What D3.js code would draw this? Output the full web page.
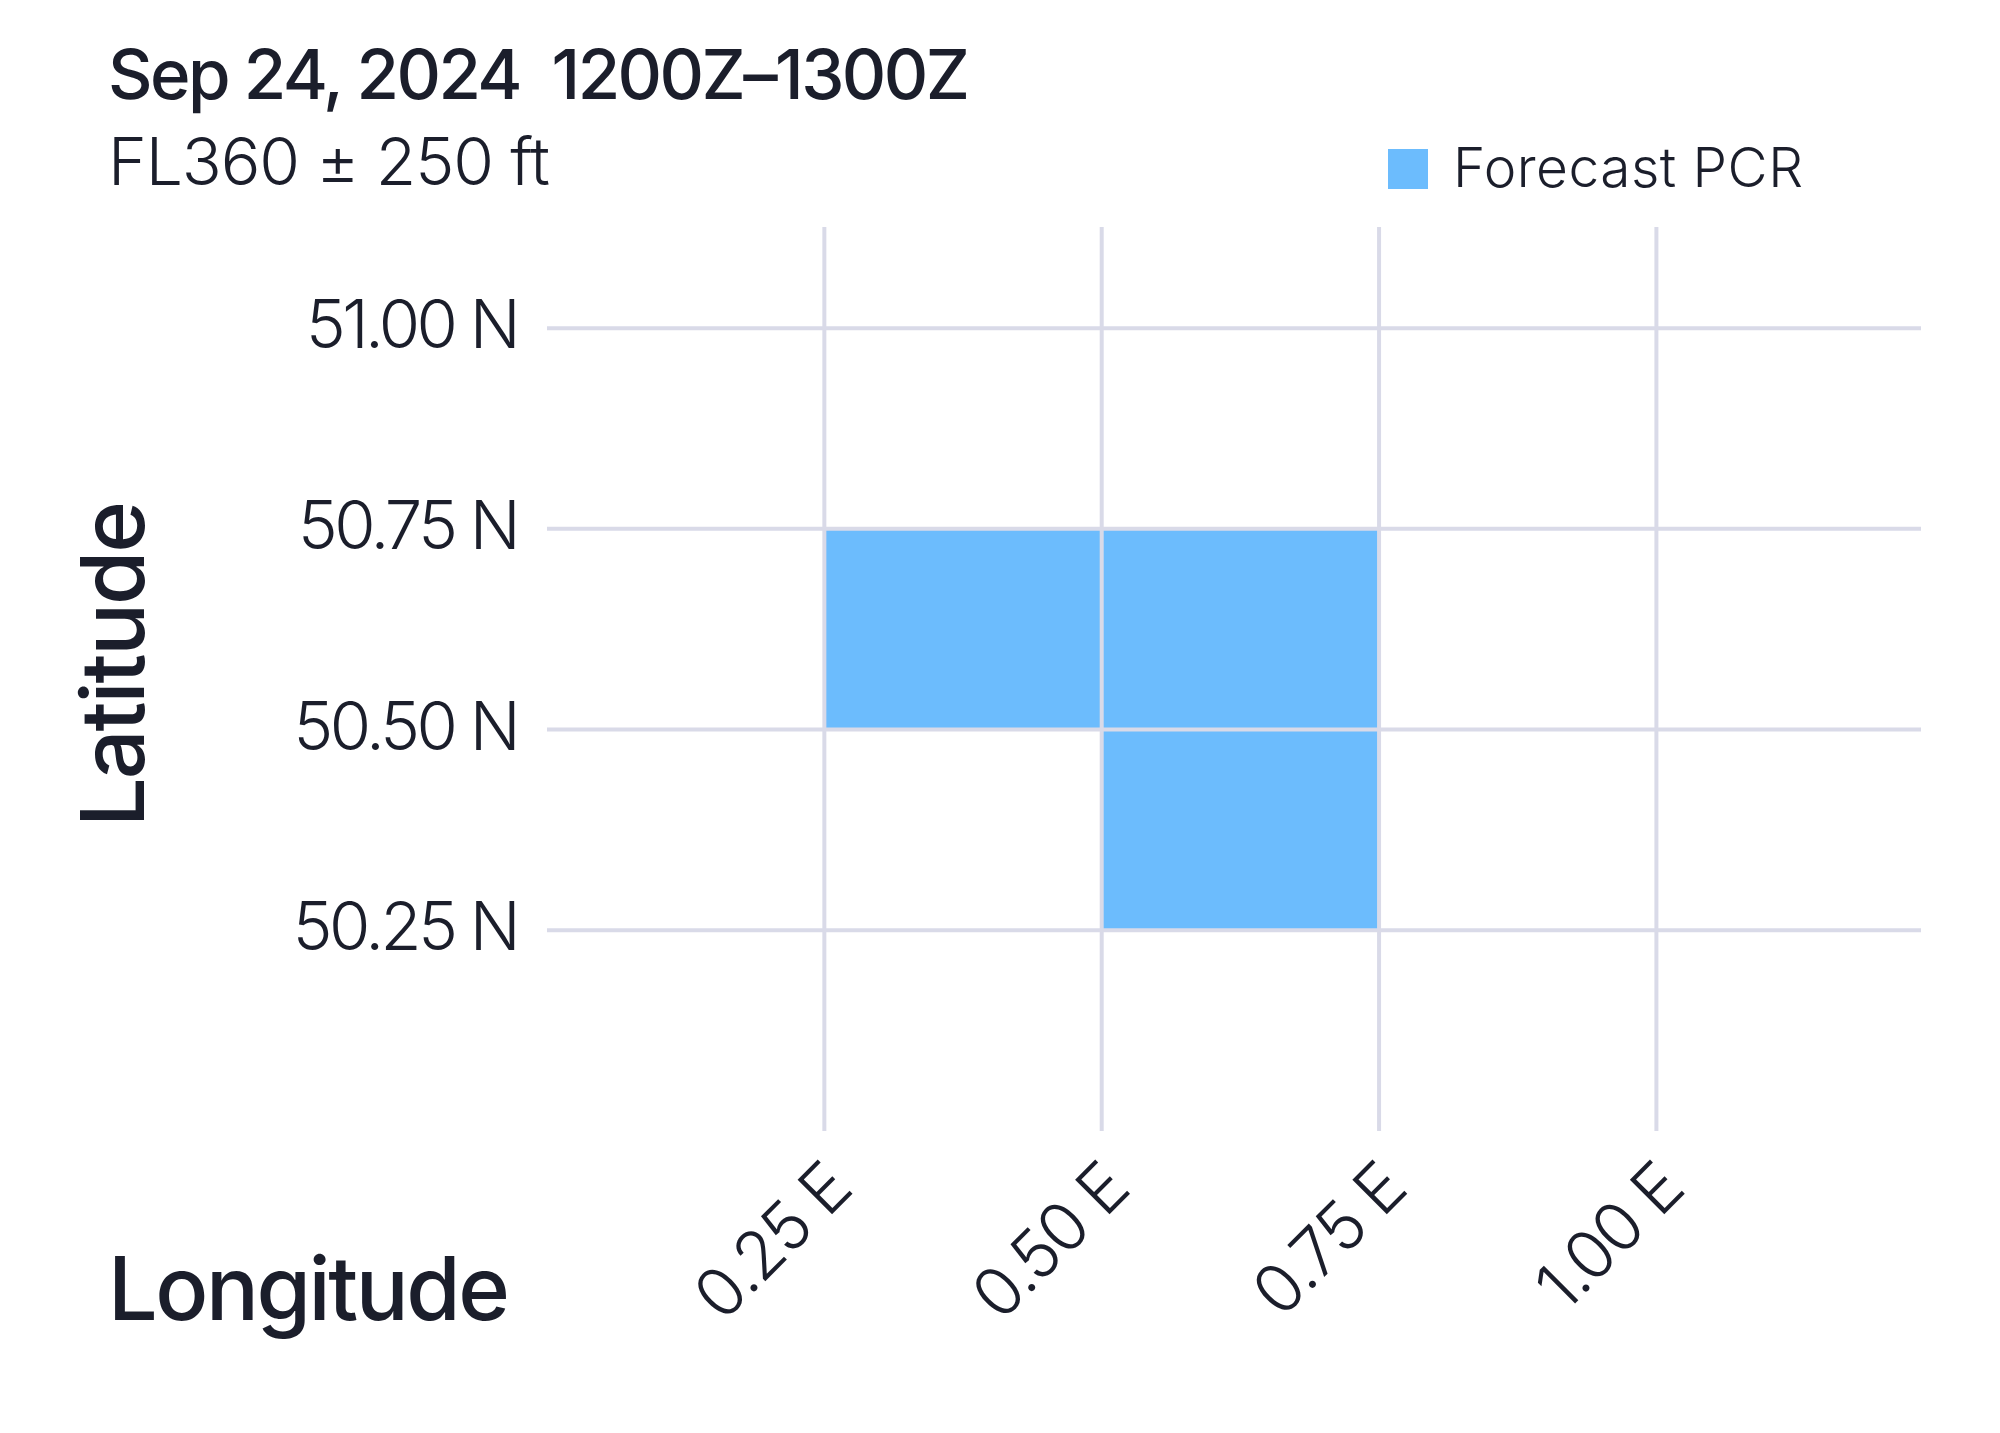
<!DOCTYPE html>
<html>
<head>
<meta charset="utf-8">
<script src="https://cdn.jsdelivr.net/npm/d3@7"></script>
<style>
  html, body { margin: 0; padding: 0; background: #ffffff; }
  svg { display: block; }
  text { font-family: Inter, "Noto Sans", sans-serif; fill: #1b1e2b; white-space: pre; }
</style>
</head>
<body>
<svg id="chart" width="2000" height="1433"></svg>
<script>
// ---- data ----
const title = "Sep 24, 2024  1200Z\u20131300Z";
const subtitle = "FL360 \u00b1 250 ft";
const seriesName = "Forecast PCR";
const lonTicks = [0.25, 0.50, 0.75, 1.00];
const latTicks = [50.25, 50.50, 50.75, 51.00];
const lonTickLabels = ["0.25 E", "0.50 E", "0.75 E", "1.00 E"];
const latTickLabels = ["50.25 N", "50.50 N", "50.75 N", "51.00 N"];
// forecast PCR cells: lower-left corner (lon, lat), cell size 0.25 deg
const cellLon = [0.25, 0.50, 0.50];
const cellLat = [50.50, 50.50, 50.25];
const cellSize = 0.25;
const xTitle = "Longitude";
const yTitle = "Latitude";

// ---- layout ----
const svg = d3.select("#chart");
const C = { text: "#1b1e2b", grid: "#d9dae8", cell: "#6cbcfd" };

const x = d3.scaleLinear().domain([0.0, 1.2385]).range([547, 1921]);
const y = d3.scaleLinear().domain([50.0, 51.126]).range([1131, 227]);

function fit(sel, target) {
  const node = sel.node();
  const w = node.getComputedTextLength();
  const n = sel.text().length;
  if (n > 1) sel.attr("letter-spacing", ((target - w) / (n - 1)).toFixed(2));
  return sel;
}

// cells (under grid)
const cells = cellLon.map((lon, i) => ({ lon, lat: cellLat[i] }));
svg.append("g").selectAll("rect").data(cells).join("rect")
  .attr("x", d => x(d.lon))
  .attr("y", d => y(d.lat + cellSize))
  .attr("width", d => x(d.lon + cellSize) - x(d.lon))
  .attr("height", d => y(d.lat) - y(d.lat + cellSize))
  .attr("fill", C.cell);

// grid lines
const grid = svg.append("g");
grid.selectAll("line.v").data(lonTicks).join("line").attr("class", "v")
  .attr("x1", d => x(d)).attr("x2", d => x(d))
  .attr("y1", y.range()[1]).attr("y2", y.range()[0])
  .attr("stroke", C.grid).attr("stroke-width", 4);
grid.selectAll("line.h").data(latTicks).join("line").attr("class", "h")
  .attr("y1", d => y(d)).attr("y2", d => y(d))
  .attr("x1", x.range()[0]).attr("x2", x.range()[1])
  .attr("stroke", C.grid).attr("stroke-width", 4);

// y tick labels
const yl = svg.append("g").selectAll("text").data(latTicks).join("text")
  .attr("x", 517).attr("y", d => y(d) + 20)
  .attr("text-anchor", "end")
  .style("font-size", "67px").style("font-weight", 300)
  .text((d, i) => latTickLabels[i]);
{
  const s = yl.filter((d, i) => i === 1);
  fit(s, 227);
  yl.attr("letter-spacing", s.attr("letter-spacing"));
}

// x tick labels (rotated)
const xl = svg.append("g").selectAll("text").data(lonTicks).join("text")
  .attr("text-anchor", "end")
  .attr("transform", d => `translate(${x(d) + 30},${y.range()[0] + 61}) rotate(-45)`)
  .style("font-size", "67px").style("font-weight", 300)
  .text((d, i) => lonTickLabels[i]);
{
  const s = xl.filter((d, i) => i === 0);
  fit(s, 188);
  xl.attr("letter-spacing", s.attr("letter-spacing"));
}

// titles
fit(svg.append("text").attr("x", 108).attr("y", 99)
  .style("font-size", "69px").style("font-weight", 500).text(title), 862);
fit(svg.append("text").attr("x", 108).attr("y", 185)
  .style("font-size", "66px").style("font-weight", 300).text(subtitle), 442);

// legend
svg.append("rect").attr("x", 1388).attr("y", 149).attr("width", 40).attr("height", 40).attr("fill", C.cell);
fit(svg.append("text").attr("x", 1453).attr("y", 187)
  .style("font-size", "55px").style("font-weight", 300).text(seriesName), 350);

// axis titles
fit(svg.append("text").attr("x", 108).attr("y", 1320)
  .style("font-size", "88px").style("font-weight", 450).text(xTitle), 402);
fit(svg.append("text").attr("text-anchor", "middle")
  .attr("transform", "translate(144,665) rotate(-90)")
  .style("font-size", "88px").style("font-weight", 450).text(yTitle), 326);
</script>
</body>
</html>
